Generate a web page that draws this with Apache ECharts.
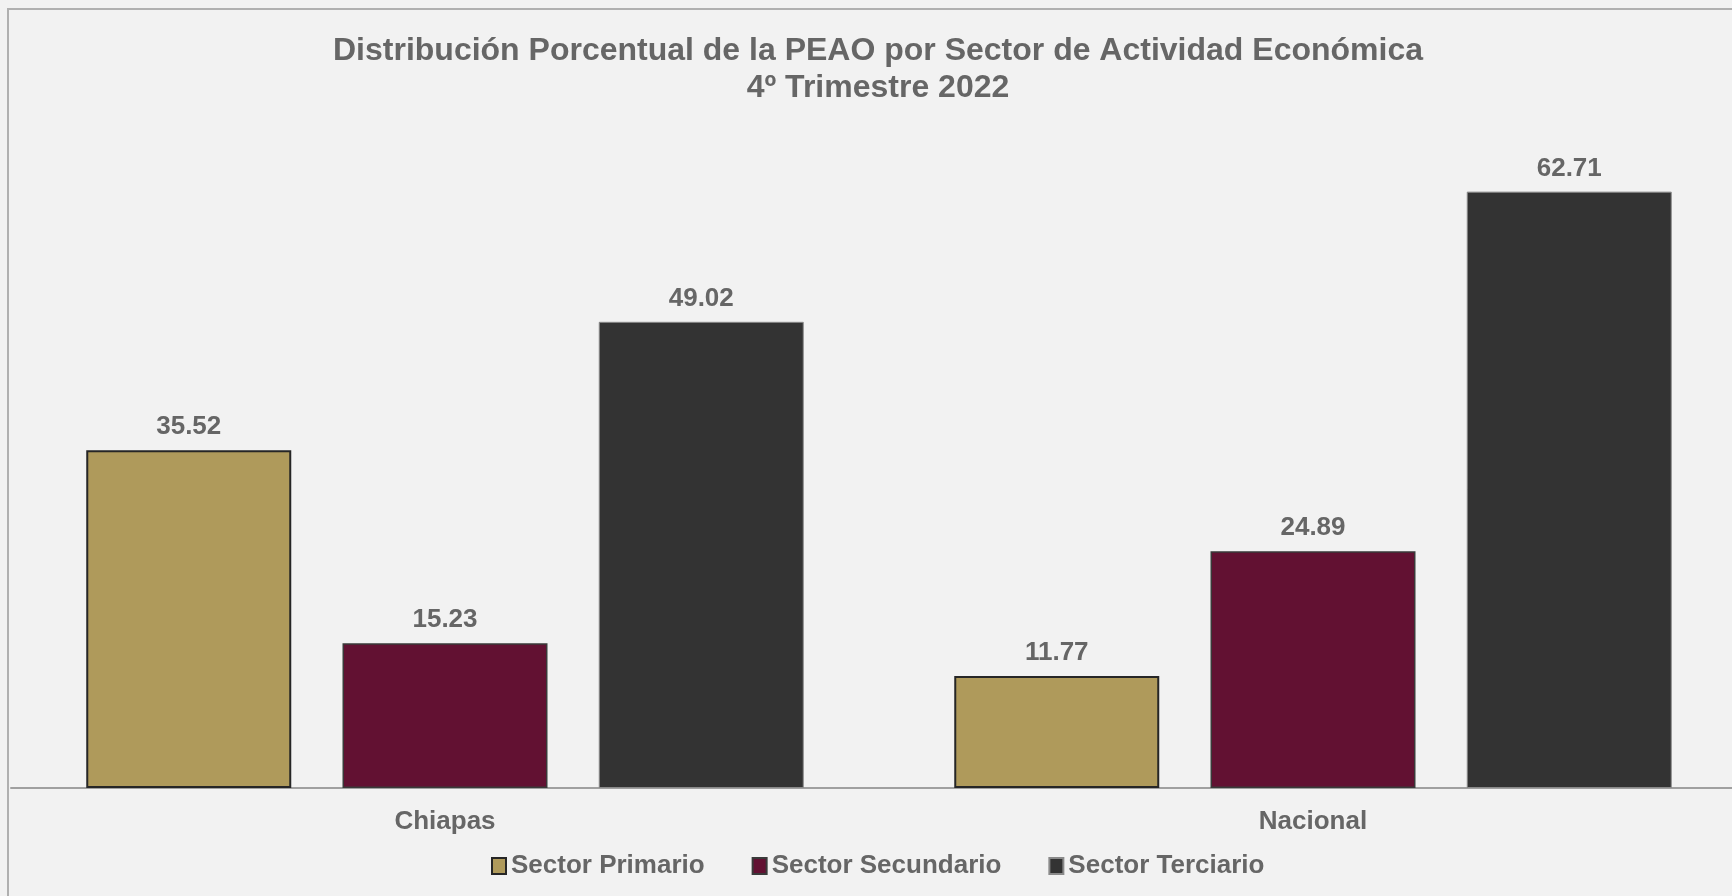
<!DOCTYPE html>
<html>
<head>
<meta charset="utf-8">
<script src="https://cdn.jsdelivr.net/npm/echarts@6/dist/echarts.min.js"></script>
<style>
html,body{margin:0;padding:0;background:#F2F2F2;}
#chart{width:1732px;height:896px;}
</style>
</head>
<body>
<div id="chart"></div>
<script>
const categories = ['Chiapas', 'Nacional'];
const seriesNames = ['Sector Primario', 'Sector Secundario', 'Sector Terciario'];
const primario = [35.52, 11.77];
const secundario = [15.23, 24.89];
const terciario = [49.02, 62.71];
const titleText = 'Distribución Porcentual de la PEAO por Sector de Actividad Económica\n4º Trimestre 2022';

const font = '"Liberation Sans", Arial, sans-serif';
const textColor = '#666666';

const labelCfg = {
  show: true,
  position: 'top',
  distance: 10,
  fontFamily: font,
  fontSize: 26,
  fontWeight: 'bold',
  color: textColor,
  formatter: p => p.value.toFixed(2)
};

const chart = echarts.init(document.getElementById('chart'), null, {renderer: 'canvas'});
chart.setOption({
  backgroundColor: '#F2F2F2',
  animation: false,
  title: {
    text: titleText,
    left: 878,
    top: 33,
    padding: 0,
    textAlign: 'center',
    textStyle: {
      fontFamily: font,
      fontSize: 32,
      fontWeight: 'bold',
      color: textColor,
      lineHeight: 37
    }
  },
  legend: {
    data: seriesNames,
    left: 491,
    top: 853,
    padding: 0,
    icon: 'rect',
    itemWidth: 14,
    itemHeight: 16,
    itemGap: 47,
    textStyle: {
      fontFamily: font,
      fontSize: 26,
      fontWeight: 'bold',
      color: textColor
    }
  },
  graphic: [{
    type: 'rect',
    shape: {x: 8, y: 9, width: 1900, height: 1000},
    style: {fill: 'none', stroke: '#B0B0B0', lineWidth: 2},
    silent: true,
    z: 100
  }],
  grid: {
    left: 11,
    top: 122.3,
    width: 1736,
    bottom: 108,
    containLabel: false,
    outerBoundsMode: 'none'
  },
  xAxis: {
    type: 'category',
    data: categories,
    axisLine: {show: true, lineStyle: {color: '#A0A0A0', width: 2}},
    axisTick: {show: false},
    axisLabel: {
      margin: 21,
      fontFamily: font,
      fontSize: 26,
      fontWeight: 'bold',
      color: textColor
    }
  },
  yAxis: {
    type: 'value',
    min: 0,
    max: 70,
    show: false,
    splitLine: {show: false}
  },
  series: [
    {
      name: seriesNames[0], type: 'bar', data: primario,
      barWidth: 205, barGap: '25%',
      itemStyle: {color: '#AF9A5B', borderColor: '#262626', borderWidth: 2},
      label: labelCfg
    },
    {
      name: seriesNames[1], type: 'bar', data: secundario,
      barWidth: 205, barGap: '25%',
      itemStyle: {color: '#621132', borderColor: '#3A3A3A', borderWidth: 1.5},
      label: labelCfg
    },
    {
      name: seriesNames[2], type: 'bar', data: terciario,
      barWidth: 205, barGap: '25%',
      itemStyle: {color: '#333333', borderColor: '#8A8A8A', borderWidth: 1},
      label: labelCfg
    }
  ]
});
</script>
</body>
</html>
